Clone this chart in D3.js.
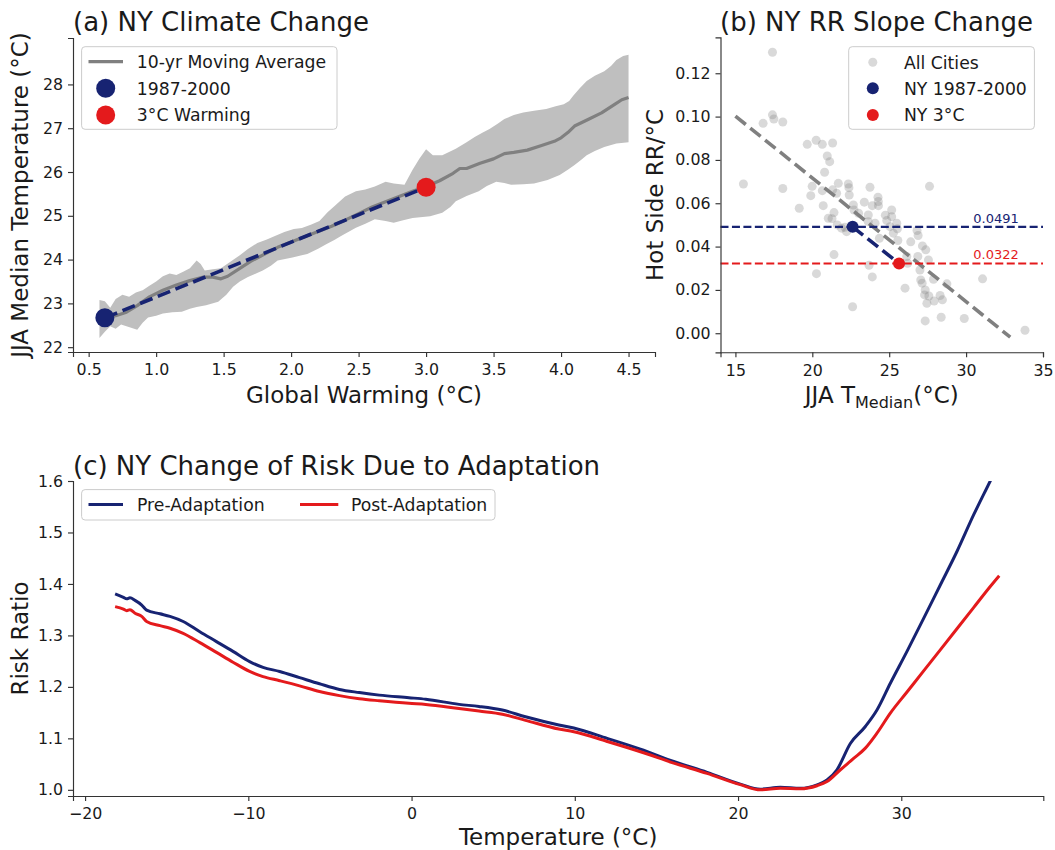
<!DOCTYPE html>
<html>
<head>
<meta charset="utf-8">
<script src="https://cdn.jsdelivr.net/npm/d3@7"></script>
<style>
  html, body { margin: 0; padding: 0; background: #fff; }
  svg { display: block; font-family: "DejaVu Sans", sans-serif; }
</style>
</head>
<body>
<svg id="chart" width="1055" height="850"></svg>
<script>
// ---------------- DATA ----------------
// Panel (a): NY JJA median temperature vs global warming
const maX = [0.62,0.7,0.78,0.86,0.95,1.05,1.15,1.25,1.35,1.42,1.48,1.53,1.6,1.7,1.8,1.9,2.0,2.1,2.2,2.3,2.4,2.5,2.6,2.7,2.8,2.9,3.0,3.1,3.2,3.25,3.3,3.4,3.5,3.58,3.65,3.75,3.85,3.95,4.0,4.05,4.1,4.2,4.3,4.4,4.45,4.5];
const maY = [22.68,22.72,22.8,22.95,23.15,23.3,23.42,23.52,23.6,23.6,23.56,23.62,23.76,23.96,24.12,24.28,24.4,24.52,24.64,24.76,24.9,25.05,25.2,25.32,25.44,25.56,25.67,25.8,25.97,26.08,26.08,26.2,26.3,26.42,26.45,26.5,26.6,26.7,26.78,26.9,27.05,27.2,27.35,27.55,27.65,27.7];
const bandHiX = [0.58,0.62,0.66,0.7,0.75,0.8,0.85,0.9,0.95,1.0,1.05,1.1,1.15,1.2,1.25,1.3,1.33,1.36,1.42,1.48,1.55,1.62,1.68,1.75,1.82,1.88,1.95,2.02,2.08,2.15,2.21,2.27,2.32,2.4,2.48,2.55,2.62,2.7,2.76,2.84,2.9,2.95,3.0,3.05,3.12,3.22,3.3,3.36,3.42,3.47,3.53,3.58,3.65,3.72,3.8,3.89,3.96,4.02,4.06,4.09,4.14,4.19,4.25,4.32,4.37,4.41,4.46,4.5];
const bandHiY = [23.08,23.05,22.9,23.1,23.2,23.15,23.25,23.3,23.4,23.5,23.62,23.68,23.65,23.72,23.8,23.98,23.9,23.75,23.78,23.8,23.95,24.1,24.24,24.38,24.46,24.54,24.63,24.7,24.72,24.8,24.88,25.08,25.22,25.44,25.56,25.6,25.67,25.78,25.74,25.71,26.05,26.3,26.52,26.38,26.38,26.53,26.68,26.8,26.9,26.98,27.1,27.21,27.3,27.36,27.4,27.44,27.5,27.55,27.62,27.74,27.92,28.08,28.2,28.3,28.42,28.56,28.65,28.68];
const bandLoX = [0.58,0.62,0.66,0.7,0.74,0.78,0.82,0.86,0.9,0.94,1.0,1.05,1.12,1.19,1.25,1.3,1.37,1.46,1.52,1.57,1.62,1.68,1.74,1.79,1.85,1.9,2.01,2.12,2.2,2.26,2.32,2.37,2.43,2.48,2.55,2.62,2.7,2.76,2.83,2.9,3.03,3.12,3.18,3.22,3.3,3.39,3.45,3.52,3.58,3.63,3.72,3.8,3.9,3.99,4.05,4.1,4.15,4.19,4.25,4.32,4.41,4.5];
const bandLoY = [22.21,22.35,22.48,22.42,22.52,22.48,22.44,22.4,22.56,22.68,22.72,22.77,22.8,22.81,22.88,22.92,22.96,23.04,23.2,23.38,23.5,23.6,23.68,23.75,23.86,23.98,24.05,24.13,24.25,24.35,24.45,24.54,24.64,24.73,24.82,24.92,24.88,24.84,24.9,24.95,24.99,25.07,25.2,25.33,25.45,25.56,25.68,25.78,25.75,25.71,25.72,25.74,25.82,25.93,26.05,26.16,26.28,26.38,26.48,26.57,26.65,26.68];
const nyBaseA = {gw: 0.62, t: 22.67};
const ny3CA = {gw: 3.0, t: 25.65};

// Panel (b): hot-side RR slope vs JJA median temperature, all cities
const cityT = [17.41,17.41,17.5,16.8,18.08,15.52,18.08,19.67,20.25,20.65,21.32,20.97,21.13,20.8,19.99,19.9,20.65,19.15,20.71,21.41,21.04,21.28,21.62,21.69,22.34,22.38,22.4,21.58,21.32,22.67,22.71,23.01,23.38,23.75,23.9,24.27,24.29,24.3,23.64,23.64,24.08,24.75,24.84,25.16,25.16,25.05,25.49,25.53,25.27,25.56,24.36,21.9,22.12,22.23,21.41,23.69,23.9,20.27,22.62,26.03,26.4,26.81,26.88,27.16,27.38,27.62,26.86,27.55,27.0,27.05,27.14,27.34,27.3,27.45,27.58,27.34,27.92,28.31,28.46,28.38,27.88,28.75,29.88,31.07,33.83,26.2,26.14];
const citySlope = [0.1297,0.1008,0.0989,0.0969,0.0975,0.0689,0.0668,0.0872,0.0891,0.0872,0.0878,0.0818,0.0792,0.0743,0.0678,0.0635,0.0658,0.0577,0.0589,0.0557,0.0531,0.0529,0.05,0.0692,0.0689,0.0672,0.0638,0.0646,0.0662,0.0592,0.0569,0.0554,0.0605,0.0674,0.0589,0.0628,0.0608,0.0589,0.0546,0.0515,0.0508,0.0545,0.052,0.0569,0.0538,0.0492,0.0508,0.0482,0.0462,0.0428,0.0438,0.0485,0.0489,0.0469,0.0363,0.0314,0.026,0.0275,0.0122,0.0208,0.0422,0.0474,0.0451,0.0403,0.0385,0.0678,0.0354,0.0338,0.0292,0.0246,0.0231,0.02,0.0177,0.0138,0.0172,0.0057,0.0149,0.0174,0.0154,0.0074,0.0249,0.0228,0.0068,0.0251,0.0014,0.0323,0.0354];
const trendT = [15.0, 32.87];
const trendSlope = [0.1002, -0.0018];
const nyBaseB = {t: 22.62, s: 0.0491};
const ny3CB = {t: 25.64, s: 0.0322};
const hLineLabels = ["0.0491", "0.0322"];

// Panel (c): risk ratio vs temperature
const tempPre = [-18.16,-17.65,-17.45,-17.25,-16.94,-16.53,-16.23,-15.41,-14.8,-13.99,-12.97,-11.95,-10.94,-9.92,-9.1,-8.08,-6.86,-5.64,-4.42,-3.2,-1.98,-0.16,0.87,2.91,4.13,5.56,6.98,9.02,9.94,11.98,14.02,16.06,18.1,20.14,21.37,22.59,23.82,24.84,25.45,26.06,26.88,27.8,28.51,29.33,30.35,31.37,32.39,33.41,34.43,35.45,36.0];
const rrPre = [1.3806,1.374,1.371,1.373,1.368,1.359,1.349,1.342,1.337,1.327,1.307,1.288,1.269,1.249,1.238,1.23,1.218,1.206,1.195,1.189,1.184,1.179,1.176,1.166,1.162,1.155,1.142,1.126,1.12,1.1,1.079,1.055,1.034,1.011,1.0013,1.005,1.003,1.0097,1.019,1.039,1.09,1.123,1.155,1.207,1.269,1.333,1.398,1.463,1.534,1.6,1.636];
const tempPost = [-18.16,-17.65,-17.45,-17.25,-16.94,-16.53,-16.23,-15.41,-14.8,-13.99,-12.97,-11.95,-10.94,-9.92,-9.1,-8.08,-6.86,-5.64,-4.42,-3.2,-1.98,-0.16,0.87,2.91,4.13,5.56,6.98,9.02,9.94,11.98,14.02,16.06,18.1,20.14,21.37,22.59,23.82,24.84,25.45,26.27,27.08,27.8,28.51,29.33,30.35,31.37,32.39,33.41,34.43,35.45,36.0];
const rrPost = [1.356,1.351,1.348,1.35,1.343,1.337,1.327,1.319,1.314,1.304,1.286,1.267,1.248,1.23,1.22,1.212,1.202,1.191,1.183,1.177,1.173,1.168,1.166,1.158,1.153,1.147,1.135,1.118,1.113,1.094,1.074,1.052,1.032,1.01,1.0,1.003,1.002,1.008,1.016,1.039,1.061,1.081,1.11,1.149,1.19,1.231,1.272,1.313,1.354,1.395,1.416];

// Tick values
const ticksAx = [0.5,1.0,1.5,2.0,2.5,3.0,3.5,4.0,4.5];
const ticksAy = [22,23,24,25,26,27,28];
const ticksBx = [15,20,25,30,35];
const ticksBy = [0.00,0.02,0.04,0.06,0.08,0.10,0.12];
const ticksCx = [-20,-10,0,10,20,30];
const ticksCy = [1.0,1.1,1.2,1.3,1.4,1.5,1.6];

// ---------------- STYLE ----------------
const NAVY = "#172372", RED = "#e41a1c", GRAY = "#808080", BAND = "#bfbfbf";
const FONT_TITLE = 26, FONT_LABEL = 23, FONT_TICK = 15.8, FONT_LEG = 17.25;
const TEXT = "#1a1a1a", SPINE = "#333";

const svg = d3.select("#chart");

function styleAxis(g) {
  g.selectAll("path.domain").attr("stroke", SPINE).attr("stroke-width", 1.15);
  g.selectAll(".tick line").attr("stroke", SPINE).attr("stroke-width", 1.15);
  g.selectAll(".tick text").attr("fill", TEXT).style("font-size", FONT_TICK + "px")
    .style("font-family", "DejaVu Sans");
}

function drawAxes(x, y, tx, ty, fx, fy) {
  const [x0, x1] = x.range(), [y0, y1] = y.range();
  const gx = svg.append("g").attr("transform", `translate(0,${y0})`)
    .call(d3.axisBottom(x).tickValues(tx).tickFormat(fx).tickSizeOuter(0).tickSize(5).tickPadding(7));
  styleAxis(gx);
  const gy = svg.append("g").attr("transform", `translate(${x0},0)`)
    .call(d3.axisLeft(y).tickValues(ty).tickFormat(fy).tickSizeOuter(0).tickSize(5).tickPadding(5));
  styleAxis(gy);
}

function title(txt, x, y) {
  svg.append("text").attr("x", x).attr("y", y).attr("fill", TEXT)
    .style("font-size", FONT_TITLE + "px").text(txt);
}
function xlabel(txt, x, y) {
  return svg.append("text").attr("x", x).attr("y", y).attr("text-anchor", "middle").attr("fill", TEXT)
    .style("font-size", FONT_LABEL + "px").text(txt);
}
function ylabel(txt, x, y) {
  svg.append("text").attr("transform", `translate(${x},${y}) rotate(-90)`).attr("text-anchor", "middle")
    .attr("fill", TEXT).style("font-size", FONT_LABEL + "px").text(txt);
}
function legendBox(x0, y0, x1, y1) {
  svg.append("rect").attr("x", x0).attr("y", y0).attr("width", x1 - x0).attr("height", y1 - y0)
    .attr("rx", 3.5).attr("fill", "white").attr("fill-opacity", 0.8)
    .attr("stroke", "#cccccc").attr("stroke-width", 1);
}
function legText(txt, x, yc, color) {
  svg.append("text").attr("x", x).attr("y", yc + 6.3).attr("fill", color || TEXT)
    .style("font-size", FONT_LEG + "px").text(txt);
}

// ---------------- PANEL (a) ----------------
const xA = d3.scaleLinear().domain([0.384, 4.696]).range([73, 655]);
const yA = d3.scaleLinear().domain([21.89, 29.06]).range([352, 38]);

const upper = bandHiX.map((v, i) => [v, bandHiY[i]]);
const lower = bandLoX.map((v, i) => [v, bandLoY[i]]).reverse();
const polyLine = d3.line().x(d => xA(d[0])).y(d => yA(d[1]));
svg.append("path").attr("d", polyLine(upper.concat(lower)) + "Z").attr("fill", BAND).attr("stroke", "none");

svg.append("path").datum(maX.map((v, i) => [v, maY[i]]))
  .attr("d", polyLine).attr("fill", "none").attr("stroke", GRAY).attr("stroke-width", 3.2)
  .attr("stroke-linejoin", "round");

svg.append("path").datum([[nyBaseA.gw, nyBaseA.t], [ny3CA.gw, ny3CA.t]])
  .attr("d", polyLine).attr("fill", "none").attr("stroke", NAVY).attr("stroke-width", 3.6)
  .attr("stroke-dasharray", "13.3,5.75");

svg.append("circle").attr("cx", xA(nyBaseA.gw)).attr("cy", yA(nyBaseA.t)).attr("r", 9.5).attr("fill", NAVY);
svg.append("circle").attr("cx", xA(ny3CA.gw)).attr("cy", yA(ny3CA.t)).attr("r", 9.5).attr("fill", RED);

drawAxes(xA, yA, ticksAx, ticksAy, d3.format(".1f"), d3.format("d"));
title("(a) NY Climate Change", 73, 31);
xlabel("Global Warming (°C)", (73 + 655) / 2, 403);
ylabel("JJA Median Temperature (°C)", 28, 195);

legendBox(81.6, 46.7, 337, 129.3);
svg.append("line").attr("x1", 88.5).attr("x2", 123).attr("y1", 61.7).attr("y2", 61.7)
  .attr("stroke", GRAY).attr("stroke-width", 3.2);
legText("10-yr Moving Average", 136.8, 61.7);
svg.append("circle").attr("cx", 105.7).attr("cy", 88.3).attr("r", 9.5).attr("fill", NAVY);
legText("1987-2000", 136.8, 88.3);
svg.append("circle").attr("cx", 105.7).attr("cy", 115).attr("r", 9.5).attr("fill", RED);
legText("3°C Warming", 136.8, 115);

// ---------------- PANEL (b) ----------------
const xB = d3.scaleLinear().domain([14.03, 35]).range([720.5, 1043]);
const yB = d3.scaleLinear().domain([-0.0088, 0.1366]).range([352.3, 37.3]);

svg.append("g").selectAll("circle").data(cityT.map((v, i) => [v, citySlope[i]])).join("circle")
  .attr("cx", d => xB(d[0])).attr("cy", d => yB(d[1])).attr("r", 4.5)
  .attr("fill", GRAY).attr("fill-opacity", 0.3);

const lineB = d3.line().x(d => xB(d[0])).y(d => yB(d[1]));
svg.append("path").datum(trendT.map((v, i) => [v, trendSlope[i]]))
  .attr("d", lineB).attr("fill", "none").attr("stroke", GRAY).attr("stroke-width", 3.6)
  .attr("stroke-dasharray", "13.3,5.75");

[[nyBaseB.s, NAVY, hLineLabels[0]], [ny3CB.s, RED, hLineLabels[1]]].forEach(([s, c, lab]) => {
  svg.append("line").attr("x1", xB.range()[0]).attr("x2", xB.range()[1])
    .attr("y1", yB(s)).attr("y2", yB(s)).attr("stroke", c).attr("stroke-width", 2.16)
    .attr("stroke-dasharray", "8,3.45");
  svg.append("text").attr("x", xB(31.95)).attr("y", yB(s) - 4).attr("text-anchor", "middle")
    .attr("fill", c).style("font-size", "13px").text(lab);
});

svg.append("path").datum([[nyBaseB.t, nyBaseB.s], [ny3CB.t, ny3CB.s]])
  .attr("d", lineB).attr("fill", "none").attr("stroke", NAVY).attr("stroke-width", 3.6)
  .attr("stroke-dasharray", "13.3,5.75");
svg.append("circle").attr("cx", xB(nyBaseB.t)).attr("cy", yB(nyBaseB.s)).attr("r", 6).attr("fill", NAVY);
svg.append("circle").attr("cx", xB(ny3CB.t)).attr("cy", yB(ny3CB.s)).attr("r", 6).attr("fill", RED);

drawAxes(xB, yB, ticksBx, ticksBy, d3.format("d"), d3.format(".2f"));
title("(b) NY RR Slope Change", 720, 31);
{
  const t = xlabel("", (720.5 + 1043) / 2, 403);
  t.append("tspan").text("JJA T");
  t.append("tspan").attr("dy", 5).style("font-size", "16px").text("Median");
  t.append("tspan").attr("dy", -5).text("(°C)");
}
ylabel("Hot Side RR/°C", 663, 195);

legendBox(848.7, 46.7, 1034.4, 129.3);
svg.append("circle").attr("cx", 872.8).attr("cy", 62.3).attr("r", 4.5).attr("fill", GRAY).attr("fill-opacity", 0.3);
legText("All Cities", 903.9, 62.3);
svg.append("circle").attr("cx", 872.8).attr("cy", 88.3).attr("r", 6).attr("fill", NAVY);
legText("NY 1987-2000", 903.9, 88.3);
svg.append("circle").attr("cx", 872.8).attr("cy", 115).attr("r", 6).attr("fill", RED);
legText("NY 3°C", 903.9, 115);

// ---------------- PANEL (c) ----------------
const xC = d3.scaleLinear().domain([-20.74, 38.7]).range([73, 1043.3]);
const yC = d3.scaleLinear().domain([0.988, 1.6]).range([796, 481]);

svg.append("clipPath").attr("id", "clipC").append("rect")
  .attr("x", 73).attr("y", 481).attr("width", 1043.3 - 73).attr("height", 796 - 481);

const lineC = d3.line().x(d => xC(d[0])).y(d => yC(d[1])).curve(d3.curveMonotoneX);
const gC = svg.append("g").attr("clip-path", "url(#clipC)");
gC.append("path").datum(tempPre.map((v, i) => [v, rrPre[i]]))
  .attr("d", lineC).attr("fill", "none").attr("stroke", NAVY).attr("stroke-width", 3).attr("stroke-linejoin", "round");
gC.append("path").datum(tempPost.map((v, i) => [v, rrPost[i]]))
  .attr("d", lineC).attr("fill", "none").attr("stroke", RED).attr("stroke-width", 3).attr("stroke-linejoin", "round");

drawAxes(xC, yC, ticksCx, ticksCy, d3.format("d"), d3.format(".1f"));
title("(c) NY Change of Risk Due to Adaptation", 73, 475);
xlabel("Temperature (°C)", (73 + 1043.3) / 2, 845);
ylabel("Risk Ratio", 28, 638.5);

legendBox(81.6, 489.6, 495, 520);
svg.append("line").attr("x1", 88.5).attr("x2", 123).attr("y1", 504.5).attr("y2", 504.5)
  .attr("stroke", NAVY).attr("stroke-width", 3);
legText("Pre-Adaptation", 137, 504.5);
svg.append("line").attr("x1", 300).attr("x2", 338.3).attr("y1", 504.5).attr("y2", 504.5)
  .attr("stroke", RED).attr("stroke-width", 3);
legText("Post-Adaptation", 351, 504.5);
</script>
</body>
</html>
